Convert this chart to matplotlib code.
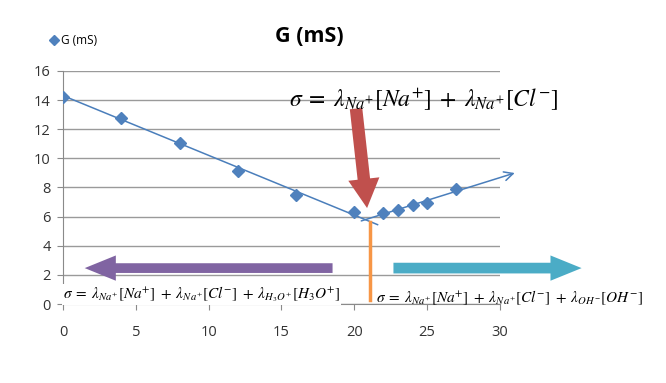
import matplotlib.pyplot as plt

plt.rcParams['mathtext.fontset'] = 'stix'
plt.rcParams['font.family'] = ['Open Sans', 'DejaVu Sans']

# measured points
volume = [0, 4, 8, 12, 16, 20, 22, 23, 24, 25, 27]
G_mS = [14.2, 12.8, 11.05, 9.1, 7.5, 6.3, 6.25, 6.45, 6.8, 6.95, 7.9]

# trend lines (before / after equivalence)
left_x = [0, 21.6]
left_y = [14.3, 5.45]
right_x = [20.3, 31.2]
right_y = [5.65, 9.05]

x_ticks = [0, 5, 10, 15, 20, 25, 30]
y_ticks = [0, 2, 4, 6, 8, 10, 12, 14, 16]

blue = '#4F81BD'

fig = plt.figure(figsize=(6.66, 3.83), dpi=100)
ax = fig.add_axes([0.0946, 0.206, 0.656, 0.609])

ax.plot(left_x, left_y, color='#4A7EBB', lw=1.1, zorder=3)
ax.annotate('', xy=(right_x[1], right_y[1]), xytext=(right_x[0], right_y[0]),
            arrowprops=dict(arrowstyle='->', color='#4A7EBB', lw=1.1, mutation_scale=16),
            annotation_clip=False, zorder=3)
ax.plot(volume, G_mS, ls='none', marker='D', ms=6.5, color=blue, label='G (mS)', zorder=4)

ax.set_xlim(0, 30)
ax.set_ylim(0, 16)
ax.set_xticks(x_ticks)
ax.set_yticks(y_ticks)
ax.grid(axis='y', color='#9a9a9a', lw=1)
ax.set_axisbelow(True)
for s in ['top', 'right']:
    ax.spines[s].set_visible(False)
for s in ['left', 'bottom']:
    ax.spines[s].set_color('#8a8a8a')
ax.tick_params(axis='both', colors='#8a8a8a', labelcolor='#333333', labelsize=10.5, length=4)
ax.tick_params(axis='x', pad=11)
ax.tick_params(axis='y', pad=5)

fig.text(0.465, 0.905, 'G (mS)', ha='center', va='center', fontsize=15.5, fontweight='bold')
fig.legend(loc='center left', bbox_to_anchor=(0.06, 0.895), frameon=False, fontsize=8.5,
           handlelength=0.6, handletextpad=0.3, markerscale=0.85)

# annotation arrows
ax.annotate('', xy=(20.9, 6.4), xytext=(20.1, 13.6),
            arrowprops=dict(arrowstyle='simple,head_width=1.5,head_length=1.4,tail_width=0.6',
                            color='#C0504D', mutation_scale=15, lw=0),
            annotation_clip=False, zorder=5)
ax.plot([21.1, 21.1], [0.27, 5.6], color='#F79646', lw=2.5, zorder=5, clip_on=False)
ax.annotate('', xy=(1.3, 2.47), xytext=(18.7, 2.47),
            arrowprops=dict(arrowstyle='simple,head_width=1.3,head_length=1.6,tail_width=0.5',
                            color='#8064A2', mutation_scale=14, lw=0),
            annotation_clip=False, zorder=5)
ax.annotate('', xy=(35.8, 2.47), xytext=(22.5, 2.47),
            arrowprops=dict(arrowstyle='simple,head_width=1.3,head_length=1.6,tail_width=0.55',
                            color='#4BACC6', mutation_scale=14, lw=0),
            annotation_clip=False, zorder=5)

# equations
ax.text(24.8, 14.0, r'$\sigma\;=\;\lambda_{Na^{+}}[Na^{+}]\;+\;\lambda_{Na^{+}}[Cl^{-}]$',
        ha='center', va='center', fontsize=17, zorder=6, clip_on=False)
ax.text(0.0, 0.65, r'$\sigma\;=\;\lambda_{Na^{+}}[Na^{+}]\;+\;\lambda_{Na^{+}}[Cl^{-}]\;+\;\lambda_{H_3O^{+}}\left[H_3O^{+}\right]$',
        ha='left', va='center', fontsize=11, zorder=6, clip_on=False,
        bbox=dict(fc='white', ec='none', pad=0.5))
ax.text(21.5, 0.45, r'$\sigma\;=\;\lambda_{Na^{+}}[Na^{+}]\;+\;\lambda_{Na^{+}}[Cl^{-}]\;+\;\lambda_{OH^{-}}[OH^{-}]$',
        ha='left', va='center', fontsize=11, zorder=6, clip_on=False)

fig.savefig('out.png', dpi=100)
